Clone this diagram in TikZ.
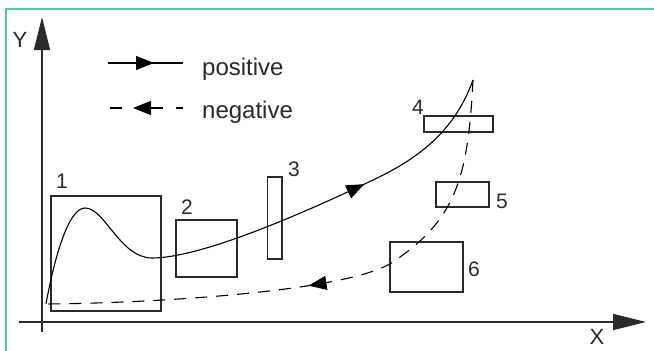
\documentclass[tikz,border=0pt]{standalone}
\usepackage{fontspec}
\setmainfont{Liberation Sans}
\usetikzlibrary{arrows.meta,decorations.markings}
\definecolor{frameteal}{HTML}{4CC9AE}
\definecolor{ink}{HTML}{2A2A2A}
\tikzset{tipm/.tip={Triangle[length=18pt,width=14pt]},
  tipax/.tip={Triangle[length=33pt,width=16pt]}}
\begin{document}
\begin{tikzpicture}[x=1pt,y=-1pt,
  frameline/.style={draw=frameteal,line width=2pt},
  axis/.style={draw=ink,line width=1.4pt,-{tipax}},
  box/.style={draw=ink,line width=1.2pt,rectangle,inner sep=0pt},
  lbl/.style={inner sep=0pt,font=\fontsize{21}{25}\selectfont,text=ink},
  axlbl/.style={inner sep=0pt,font=\fontsize{22}{26}\selectfont,text=ink},
  legtxt/.style={inner sep=0pt,font=\fontsize{24}{28}\selectfont,text=ink,anchor=base west},
  curve/.style={draw=black,line width=1.1pt},
  dashcurve/.style={curve,dash pattern=on 12pt off 9pt}
]
\useasboundingbox (0,0) rectangle (654,351);
% frame
\draw[frameline] (6,351) -- (6,9) -- (654,9);
% axes
\coordinate (yo) at (42,332);
\coordinate (yt) at (42,17);
\coordinate (xo) at (19,322);
\coordinate (xt) at (646,322);
\draw[axis] (yo) -- (yt);
\draw[axis] (xo) -- (xt);
\node[axlbl] (ylab) at (20,40) {Y};
\node[axlbl] (xlab) at (597,337) {X};
% legend
\coordinate (pa) at (108,63);
\coordinate (pm) at (154,63);
\coordinate (pb) at (183,63);
\draw[curve,-{tipm}] (pa) -- (pm);
\draw[curve] (150,63) -- (pb);
\node[legtxt] (postxt) at (202,75) {positive};
\coordinate (na) at (110,108);
\coordinate (nb) at (122,108);
\coordinate (nc) at (163,108);
\coordinate (nd) at (133,108);
\coordinate (ne) at (176,108);
\coordinate (nf) at (183,108);
\draw[curve] (na) -- (nb);
\draw[curve,-{tipm}] (nc) -- (nd);
\draw[curve] (ne) -- (nf);
\node[legtxt] (negtxt) at (202,118) {negative};
% boxes
\node[box,minimum width=110pt,minimum height=115pt] (b1) at (106,253.5) {};
\node[box,minimum width=61pt,minimum height=57pt] (b2) at (206.5,248.5) {};
\node[box,minimum width=14.5pt,minimum height=82pt] (b3) at (274.75,218) {};
\node[box,minimum width=69pt,minimum height=16pt] (b4) at (458.5,124) {};
\node[box,minimum width=53pt,minimum height=25pt] (b5) at (462.5,194.5) {};
\node[box,minimum width=73pt,minimum height=50pt] (b6) at (426.5,267) {};
\node[lbl] (l1) at (62,181) {1};
\node[lbl] (l2) at (187,207) {2};
\node[lbl] (l3) at (294,169) {3};
\node[lbl] (l4) at (418,107) {4};
\node[lbl] (l5) at (502,201) {5};
\node[lbl] (l6) at (474,269) {6};
% curves
\coordinate (cs) at (46,304);
\coordinate (cpk) at (85,208);
\coordinate (cmn) at (152,258);
\coordinate (cmd) at (373,180);
\coordinate (ce) at (473,80);
\coordinate (dmd) at (393,262);
\draw[curve,postaction={decorate},decoration={markings,mark=at position 0.73 with {\arrow{tipm}}}]
  (cs) .. controls (54,260) and (68,208) .. (cpk)
       .. controls (105,208) and (120,258) .. (cmn)
       .. controls (200,258) and (300,215) .. (cmd)
       .. controls (420,158) and (455,130) .. (ce);
\draw[dashcurve,postaction={decorate},decoration={markings,mark=at position 0.53 with {\arrow{tipm}}}]
  (ce) .. controls (468,180) and (455,220) .. (dmd)
       .. controls (350,291) and (160,303) .. (cs);
\end{tikzpicture}
\end{document}
